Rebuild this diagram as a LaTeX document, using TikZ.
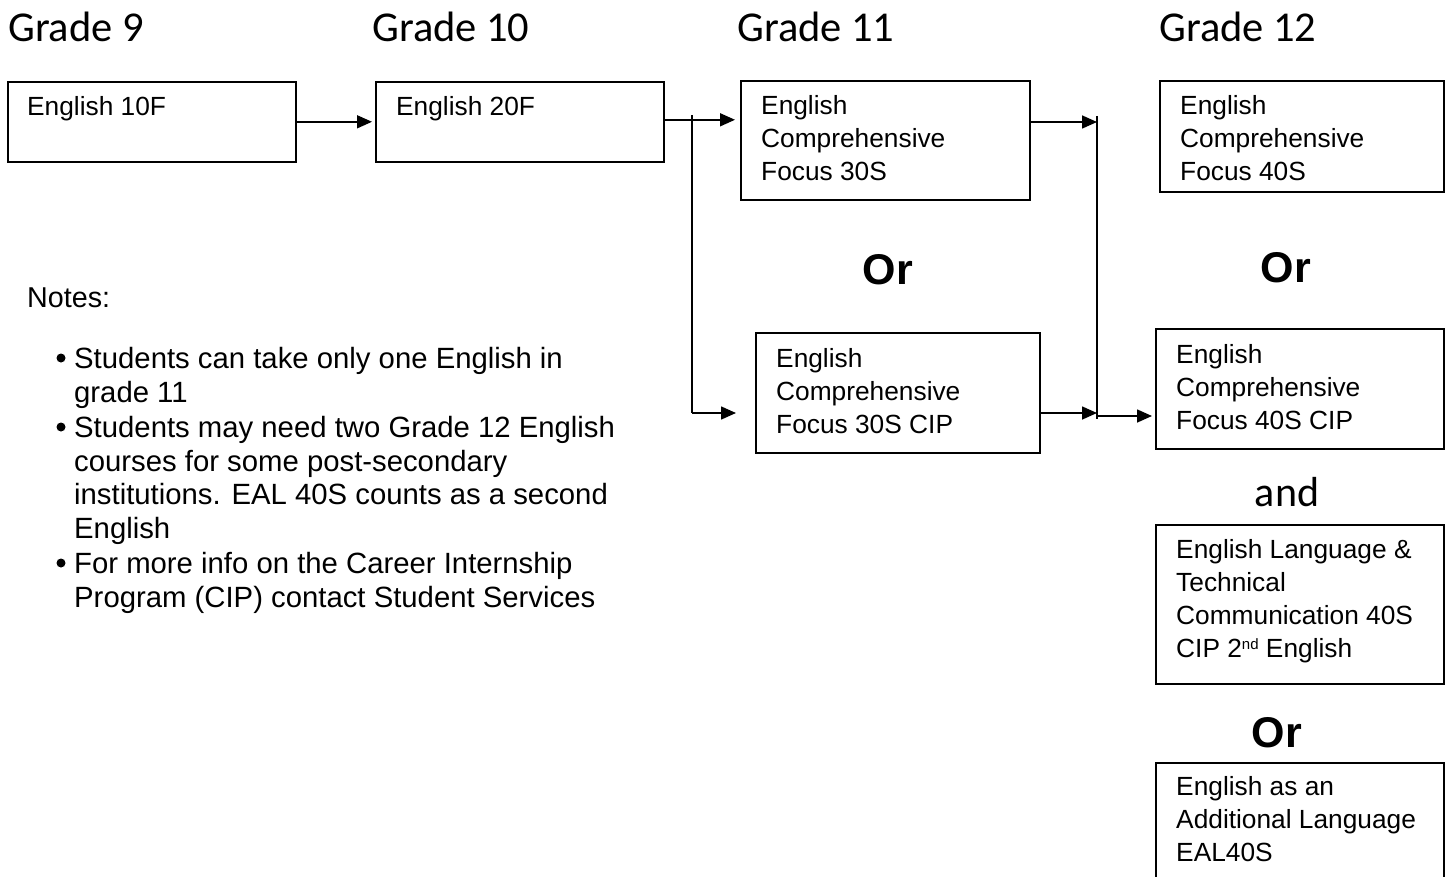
\documentclass[tikz,border=0pt]{standalone}
\usepackage{fontspec}
\setmainfont{Liberation Sans}
\newfontfamily\calib{Carlito}
\usetikzlibrary{arrows.meta,calc}
\begin{document}
\begin{tikzpicture}[x=1pt,y=-1pt,
  box/.style={draw,line width=1.6pt,anchor=north west,inner sep=0pt},
  txt/.style={anchor=north west,inner sep=0pt,align=left,font=\fontsize{26.3}{33}\selectfont},
  note/.style={anchor=north west,inner sep=0pt,align=left,font=\fontsize{29.3}{33.8}\selectfont},
  grade/.style={anchor=base west,inner sep=0pt,font=\calib\fontsize{42.5}{50}\selectfont},
  orlbl/.style={inner sep=0pt,font=\bfseries\fontsize{43}{50}\selectfont},
  andlbl/.style={inner sep=0pt,font=\calib\fontsize{42}{50}\selectfont},
  bul/.style={circle,fill,inner sep=0pt,minimum size=9pt},
  con/.style={line width=1.6pt},
  arr/.style={line width=1.6pt,-{Triangle[length=15pt,width=13pt]}}]
\useasboundingbox (0,0) rectangle (1448,877);

% grade headings
\node[grade] (g9)  at (8,42)    {Grade 9};
\node[grade] (g10) at (372,42)  {Grade 10};
\node[grade] (g11) at (737,42)  {Grade 11};
\node[grade] (g12) at (1159,42) {Grade 12};

% boxes
\node[box,minimum width=288pt,minimum height=80pt]  (b1) at (7,81)    {};
\node[box,minimum width=288pt,minimum height=80pt]  (b2) at (375,81)  {};
\node[box,minimum width=289pt,minimum height=119pt] (b3) at (740,80)  {};
\node[box,minimum width=284pt,minimum height=120pt] (b4) at (755,332) {};
\node[box,minimum width=284pt,minimum height=111pt] (b5) at (1159,80) {};
\node[box,minimum width=288pt,minimum height=120pt] (b6) at (1155,328) {};
\node[box,minimum width=288pt,minimum height=159pt] (b7) at (1155,524) {};
\node[box,minimum width=288pt,minimum height=160pt] (b8) at (1155,762) {};

% box texts
\node[txt] (t1) at ([shift={(20pt,-10.5pt)}]b1.north west) {\rule{0pt}{24pt}English 10F};
\node[txt] (t2) at ([shift={(21pt,-10.5pt)}]b2.north west) {\rule{0pt}{24pt}English 20F};
\node[txt] (t3) at ([shift={(21pt,-10.5pt)}]b3.north west) {\rule{0pt}{24pt}English\\Comprehensive\\Focus 30S};
\node[txt] (t4) at ([shift={(21pt,-11pt)}]b4.north west) {\rule{0pt}{24pt}English\\Comprehensive\\Focus 30S CIP};
\node[txt] (t5) at ([shift={(21pt,-10.5pt)}]b5.north west) {\rule{0pt}{24pt}English\\Comprehensive\\Focus 40S};
\node[txt] (t6) at ([shift={(21pt,-11pt)}]b6.north west) {\rule{0pt}{24pt}English\\Comprehensive\\Focus 40S CIP};
\node[txt] (t7) at ([shift={(21pt,-10pt)}]b7.north west) {\rule{0pt}{24pt}English Language \&\\Technical\\Communication 40S\\CIP 2\raisebox{8pt}{\fontsize{15}{15}\selectfont nd} English};
\node[txt] (t8) at ([shift={(21pt,-9pt)}]b8.north west) {\rule{0pt}{24pt}English as an\\Additional Language\\EAL40S};

% Or / and labels
\node[orlbl] (or1) at (888,270)  {Or};
\node[orlbl] (or2) at (1286,268) {Or};
\node[andlbl] (and1) at (1287,492) {and};
\node[orlbl] (or3) at (1277,733) {Or};

% notes
\node[anchor=base west,inner sep=0pt,font=\fontsize{28.7}{33.8}\selectfont] (notes) at (27,308) {Notes:};
\node[bul] (bu1) at (61,358) {};
\node[bul] (bu2) at (61,427) {};
\node[bul] (bu3) at (61,563) {};
\node[note] (n1) at (74,344) {\rule{0pt}{24pt}Students can take only one English in\\grade 11};
\node[note] (n2) at (74,413) {\rule{0pt}{24pt}Students may need two Grade 12 English\\courses for some post-secondary\\institutions. EAL 40S counts as a second\\English};
\node[note] (n3) at (74,549) {\rule{0pt}{24pt}For more info on the Career Internship\\Program (CIP) contact Student Services};

% connectors
\coordinate (j1) at (692,115);
\coordinate (j2) at (692,413);
\coordinate (v1) at (1097,116);
\coordinate (v2) at (1097,419);
\coordinate (v3) at (1097,416);

\draw[arr,shorten >=3pt] (b1.east) -- (b1.east -| b2.west);
\draw[arr,shorten >=5pt] ([yshift=2pt]b2.east) -- ([yshift=2pt]b2.east -| b3.west);
\draw[con] (j1) -- (j2);
\draw[arr,shorten >=19pt] (j2) -- (j2 -| b4.west);
\draw[con] (v1) -- (v2);
\draw[arr] ([yshift=-42pt]b3.north east) -- ([yshift=-42pt]b3.north east -| v1);
\draw[arr] ([yshift=-81pt]b4.north east) -- ([yshift=-81pt]b4.north east -| v1);
\draw[arr,shorten >=3pt] (v3) -- (v3 -| b6.west);
\end{tikzpicture}
\end{document}
